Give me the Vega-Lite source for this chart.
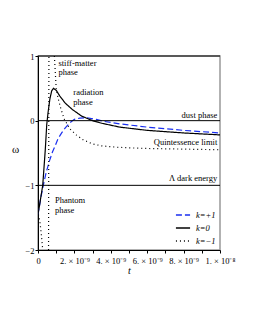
{
  "$schema": "https://vega.github.io/schema/vega-lite/v6.json",
  "width": 182,
  "height": 194,
  "autosize": {"type": "none"},
  "padding": {"left": 38, "top": 56, "right": 35, "bottom": 80},
  "background": "white",
  "config": {
    "view": {"stroke": "#999999", "strokeWidth": 1.5},
    "font": "Liberation Serif",
    "axis": {"labelFont": "Liberation Serif", "titleFont": "Liberation Serif", "domainColor": "black", "tickColor": "black", "labelColor": "black", "titleColor": "black", "grid": false, "labelFontSize": 8.5, "titleFontWeight": "normal", "labelOverlap": false},
    "axisX": {"labelOverlap": false},
    "axisQuantitative": {"labelOverlap": false},
    "legend": {"labelFont": "Liberation Serif", "labelFontStyle": "italic", "labelFontSize": 8.5, "labelColor": "black"}
  },
  "datasets": {
    "curves": [
      {"t": 0, "w": -1.45, "k": "k=+1", "seg": "a"},
      {"t": 0.15, "w": -1.2, "k": "k=+1", "seg": "a"},
      {"t": 0.29, "w": -1.0, "k": "k=+1", "seg": "a"},
      {"t": 0.45, "w": -0.8, "k": "k=+1", "seg": "a"},
      {"t": 0.62, "w": -0.63, "k": "k=+1", "seg": "a"},
      {"t": 0.8, "w": -0.48, "k": "k=+1", "seg": "a"},
      {"t": 0.93, "w": -0.4, "k": "k=+1", "seg": "a"},
      {"t": 1.1, "w": -0.28, "k": "k=+1", "seg": "a"},
      {"t": 1.3, "w": -0.19, "k": "k=+1", "seg": "a"},
      {"t": 1.5, "w": -0.11, "k": "k=+1", "seg": "a"},
      {"t": 1.76, "w": -0.03, "k": "k=+1", "seg": "a"},
      {"t": 2.0, "w": 0.02, "k": "k=+1", "seg": "a"},
      {"t": 2.3, "w": 0.04, "k": "k=+1", "seg": "a"},
      {"t": 2.7, "w": 0.045, "k": "k=+1", "seg": "a"},
      {"t": 3.2, "w": 0.02, "k": "k=+1", "seg": "a"},
      {"t": 3.6, "w": -0.01, "k": "k=+1", "seg": "a"},
      {"t": 4.5, "w": -0.05, "k": "k=+1", "seg": "a"},
      {"t": 6, "w": -0.1, "k": "k=+1", "seg": "a"},
      {"t": 8, "w": -0.15, "k": "k=+1", "seg": "a"},
      {"t": 10, "w": -0.19, "k": "k=+1", "seg": "a"},
      {"t": 0, "w": -1.45, "k": "k=0", "seg": "a"},
      {"t": 0.1, "w": -1.28, "k": "k=0", "seg": "a"},
      {"t": 0.26, "w": -1.0, "k": "k=0", "seg": "a"},
      {"t": 0.4, "w": -0.45, "k": "k=0", "seg": "a"},
      {"t": 0.48, "w": -0.06, "k": "k=0", "seg": "a"},
      {"t": 0.55, "w": 0.12, "k": "k=0", "seg": "a"},
      {"t": 0.65, "w": 0.33, "k": "k=0", "seg": "a"},
      {"t": 0.75, "w": 0.46, "k": "k=0", "seg": "a"},
      {"t": 0.85, "w": 0.5, "k": "k=0", "seg": "a"},
      {"t": 1.0, "w": 0.47, "k": "k=0", "seg": "a"},
      {"t": 1.2, "w": 0.38, "k": "k=0", "seg": "a"},
      {"t": 1.5, "w": 0.27, "k": "k=0", "seg": "a"},
      {"t": 1.9, "w": 0.17, "k": "k=0", "seg": "a"},
      {"t": 2.4, "w": 0.07, "k": "k=0", "seg": "a"},
      {"t": 3.0, "w": 0.0, "k": "k=0", "seg": "a"},
      {"t": 3.5, "w": -0.04, "k": "k=0", "seg": "a"},
      {"t": 4.5, "w": -0.1, "k": "k=0", "seg": "a"},
      {"t": 6, "w": -0.15, "k": "k=0", "seg": "a"},
      {"t": 8, "w": -0.19, "k": "k=0", "seg": "a"},
      {"t": 10, "w": -0.22, "k": "k=0", "seg": "a"},
      {"t": 0.02, "w": -1.45, "k": "k=−1", "seg": "a"},
      {"t": 0.1, "w": -1.55, "k": "k=−1", "seg": "a"},
      {"t": 0.18, "w": -1.75, "k": "k=−1", "seg": "a"},
      {"t": 0.26, "w": -2.0, "k": "k=−1", "seg": "a"},
      {"t": 0.58, "w": -2.0, "k": "k=−1", "seg": "b"},
      {"t": 0.6, "w": 1.0, "k": "k=−1", "seg": "b"},
      {"t": 0.9, "w": 1.0, "k": "k=−1", "seg": "c"},
      {"t": 1.0, "w": 0.5, "k": "k=−1", "seg": "c"},
      {"t": 1.1, "w": 0.35, "k": "k=−1", "seg": "c"},
      {"t": 1.26, "w": 0.18, "k": "k=−1", "seg": "c"},
      {"t": 1.45, "w": 0.02, "k": "k=−1", "seg": "c"},
      {"t": 1.76, "w": -0.13, "k": "k=−1", "seg": "c"},
      {"t": 2.1, "w": -0.22, "k": "k=−1", "seg": "c"},
      {"t": 2.5, "w": -0.3, "k": "k=−1", "seg": "c"},
      {"t": 3.0, "w": -0.36, "k": "k=−1", "seg": "c"},
      {"t": 3.5, "w": -0.39, "k": "k=−1", "seg": "c"},
      {"t": 4.3, "w": -0.41, "k": "k=−1", "seg": "c"},
      {"t": 5, "w": -0.42, "k": "k=−1", "seg": "c"},
      {"t": 6, "w": -0.43, "k": "k=−1", "seg": "c"},
      {"t": 8, "w": -0.44, "k": "k=−1", "seg": "c"},
      {"t": 10, "w": -0.45, "k": "k=−1", "seg": "c"}
    ],
    "refs": [{"w": 1}, {"w": 0}, {"w": -1}],
    "notesLeft": [
      {"t": 1.12, "w": 0.85, "text": "stiff-matter"},
      {"t": 1.12, "w": 0.7, "text": "phase"},
      {"t": 1.94, "w": 0.4, "text": "radiation"},
      {"t": 1.94, "w": 0.25, "text": "phase"},
      {"t": 0.93, "w": -1.27, "text": "Phantom"},
      {"t": 0.93, "w": -1.43, "text": "phase"}
    ],
    "notesRight": [
      {"t": 9.85, "w": 0.04, "text": "dust phase"},
      {"t": 9.85, "w": -0.37, "text": "Quintessence limit"},
      {"t": 9.85, "w": -0.94, "text": "Λ dark energy"}
    ]
  },
  "encoding": {
    "x": {"field": "t", "type": "quantitative", "scale": {"domain": [0, 10], "nice": false},
      "axis": {"values": [0, 1, 2, 3, 4, 5, 6, 7, 8, 9, 10], "labelExpr": "datum.value == 0 ? '0' : (datum.value == 10 ? '1. × 10⁻⁸' : (datum.value % 2 == 0 ? datum.value + '. × 10⁻⁹' : ''))", "labelOverlap": false, "labelFlush": false, "labelBound": false, "tickSize": 3, "labelPadding": 3, "title": "t", "titleFontStyle": "italic", "titleFontSize": 10, "titlePadding": 1}},
    "y": {"field": "w", "type": "quantitative", "scale": {"domain": [-2, 1], "nice": false},
      "axis": {"values": [-2, -1, 0, 1], "labelExpr": "datum.value < 0 ? '−' + abs(datum.value) : '' + datum.value", "tickSize": 3, "labelPadding": 1, "title": "ω", "titleAngle": 0, "titleFontSize": 11, "titleX": -23, "titleY": 98}}
  },
  "layer": [
    {
      "data": {"name": "curves"},
      "mark": {"type": "line", "strokeWidth": 1.2, "clip": true},
      "encoding": {
        "color": {"field": "k", "type": "nominal", "scale": {"domain": ["k=+1", "k=0", "k=−1"], "range": ["#1a2ff0", "black", "black"]},
          "legend": {"title": null, "orient": "bottom-right", "offset": 4, "symbolType": "stroke", "symbolSize": 200, "symbolStrokeWidth": 1.3, "rowPadding": -1, "labelOffset": 5}},
        "strokeDash": {"field": "k", "type": "nominal", "scale": {"domain": ["k=+1", "k=0", "k=−1"], "range": [[6, 3], [1, 0], [1, 3]]}},
        "detail": {"field": "seg"}
      }
    },
    {
      "data": {"name": "refs"},
      "mark": {"type": "rule", "color": "black", "strokeWidth": 1},
      "encoding": {
        "x": {"value": 0},
        "x2": {"value": "width"}
      }
    },
    {
      "data": {"name": "notesLeft"},
      "mark": {"type": "text", "fontSize": 8.5, "font": "Liberation Serif", "color": "black", "baseline": "alphabetic", "align": "left"},
      "encoding": {
        "text": {"field": "text"}
      }
    },
    {
      "data": {"name": "notesRight"},
      "mark": {"type": "text", "fontSize": 8.5, "font": "Liberation Serif", "color": "black", "baseline": "alphabetic", "align": "right"},
      "encoding": {
        "text": {"field": "text"}
      }
    }
  ]
}
